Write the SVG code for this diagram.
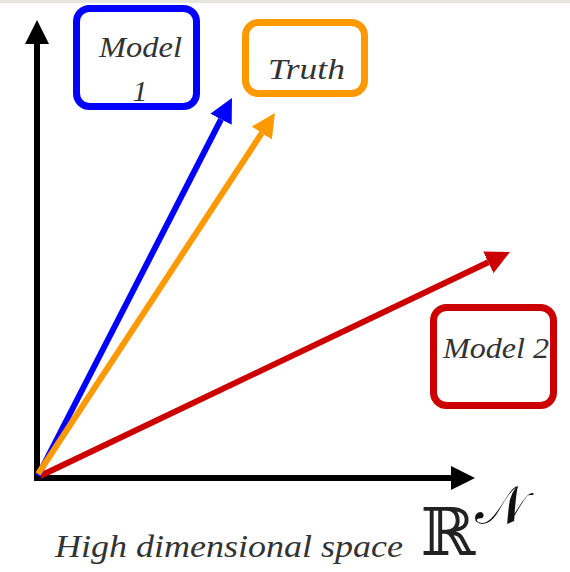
<svg xmlns="http://www.w3.org/2000/svg" width="570" height="572" viewBox="0 0 570 572">
<defs>
<style>
.lbl{font-family:"Liberation Serif","DejaVu Serif",serif;font-style:italic;fill:#333;text-anchor:middle}
.box{fill:#fff;stroke-width:7}
.ax{stroke:#000;stroke-width:6;fill:none}
.vec{stroke-width:6;fill:none}
</style>
<marker id="hk" markerUnits="userSpaceOnUse" viewBox="0 0 24 24" markerWidth="24" markerHeight="24" refX="0" refY="12" orient="auto"><path d="M0,0 L24,12 L0,24 z" fill="#000"/></marker>
<marker id="hb" markerUnits="userSpaceOnUse" viewBox="0 0 24 24" markerWidth="24" markerHeight="24" refX="0" refY="12" orient="auto"><path d="M0,0 L24,12 L0,24 z" fill="#0000ff"/></marker>
<marker id="ho" markerUnits="userSpaceOnUse" viewBox="0 0 24 24" markerWidth="24" markerHeight="24" refX="0" refY="12" orient="auto"><path d="M0,0 L24,12 L0,24 z" fill="#ff9900"/></marker>
<marker id="hr" markerUnits="userSpaceOnUse" viewBox="0 0 24 24" markerWidth="24" markerHeight="24" refX="0" refY="12" orient="auto"><path d="M0,0 L24,12 L0,24 z" fill="#cc0000"/></marker>
</defs>
<rect x="0" y="0" width="570" height="3" fill="#e6e6df"/>
<g id="connectors">
<line class="ax" x1="37" y1="481" x2="37" y2="44" marker-end="url(#hk)"/>
<line class="ax" x1="34" y1="478" x2="451" y2="478" marker-end="url(#hk)"/>
<line class="vec" stroke="#cc0000" x1="40" y1="476" x2="488.3" y2="262.3" marker-end="url(#hr)"/>
<line class="vec" stroke="#0000ff" x1="38" y1="476" x2="221" y2="119.3" marker-end="url(#hb)"/>
<line class="vec" stroke="#ff9900" x1="38" y1="474" x2="261.8" y2="133.1" marker-end="url(#ho)"/>
</g>
<g id="model1">
<rect class="box" x="76.5" y="8.5" width="120" height="98" rx="13" stroke="#0000ff"/>
<text class="lbl" x="140.5" y="57" font-size="30" textLength="83" lengthAdjust="spacingAndGlyphs">Model</text>
<text class="lbl" x="140" y="101" font-size="30">1</text>
</g>
<g id="truth">
<rect class="box" x="245.5" y="22.5" width="119" height="71" rx="13" stroke="#ff9900"/>
<text class="lbl" x="306.5" y="79" font-size="30" textLength="77" lengthAdjust="spacingAndGlyphs">Truth</text>
</g>
<g id="model2">
<rect class="box" x="433.5" y="307.5" width="120" height="98" rx="13" stroke="#cc0000"/>
<text class="lbl" x="496" y="358" font-size="30" textLength="106" lengthAdjust="spacingAndGlyphs">Model 2</text>
</g>
<g id="caption">
<text class="lbl" x="229" y="557" font-size="32" textLength="348" lengthAdjust="spacingAndGlyphs">High dimensional space</text>
<text x="448" y="555" font-family="DejaVu Serif, DejaVu Sans, serif" font-size="66" fill="#222" text-anchor="middle">ℝ</text>
<text x="501" y="524" font-family="DejaVu Serif, DejaVu Sans, serif" font-size="54" fill="#111" text-anchor="middle">𝒩</text>
</g>
</svg>
